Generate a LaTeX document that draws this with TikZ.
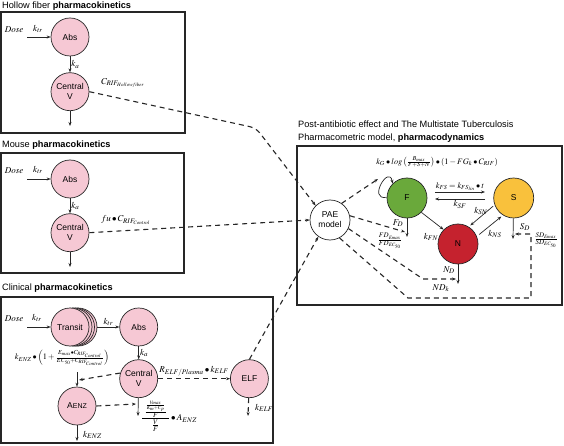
\documentclass[tikz,border=0pt]{standalone}
\usepackage{amsmath}
\usepackage{mathptmx}
\usepackage[no-math]{fontspec}
\setmainfont{Liberation Sans}
\usetikzlibrary{arrows.meta,positioning}
\definecolor{edge}{HTML}{262626}
\definecolor{pkpink}{HTML}{F6C8D4}
\definecolor{fgreen}{HTML}{6AA93B}
\definecolor{syellow}{HTML}{F9C13C}
\definecolor{nred}{HTML}{C5222E}
\tikzset{
  panel/.style={draw=edge, line width=1.2pt},
  ttl/.style={anchor=west, inner sep=0pt, text=black, font=\fontsize{9.2}{12.5}\selectfont},
  comp/.style={circle, draw=edge, line width=0.7pt, fill=pkpink, minimum size=38pt, inner sep=0pt, align=center, font=\fontsize{8.5}{10}\selectfont},
  pdcomp/.style={comp, minimum size=40pt},
  lbl/.style={inner sep=1pt, font=\small},
  eqn/.style={lbl, font=\fontsize{8.3}{10}\selectfont},
  arr/.style={-{Stealth[length=4pt,width=3pt]}, line width=0.7pt, draw=edge},
  darr/.style={arr, line width=1.1pt, dash pattern=on 5pt off 4pt}
}
\begin{document}
\begin{tikzpicture}[x=1pt, y=-1pt, node distance=16pt and 30pt]
  \useasboundingbox (0,0) rectangle (564,446);

  \node[ttl] (hfTitle) at (2,6) {Hollow fiber \textbf{pharmacokinetics}};
  \draw[panel] (1,12) rectangle (185,133);
  \node[comp] (hfAbs) at (70,37) {Abs};
  \node[comp, below=16pt of hfAbs] (hfCen) {Central\\V};
  \node[lbl] (hfDose) at (14,30) {$Dose$};
  \node[lbl] (hfKtr) at (38,29) {$k_{tr}$};
  \coordinate (hfIn) at (27,37);
  \coordinate (hfOut) at (70,126);
  \draw[arr] (hfIn) -- (hfAbs);
  \draw[arr] (hfAbs) -- node[lbl, right] {$k_a$} (hfCen);
  \draw[arr] (hfCen) -- (hfOut);
  \node[lbl, anchor=west] (hfConc) at (100,83) {$C_{RIF_{Hollowfiber}}$};

  \node[ttl] (msTitle) at (2,145) {Mouse \textbf{pharmacokinetics}};
  \draw[panel] (1,153) rectangle (184,273);
  \node[comp] (msAbs) at (70,179) {Abs};
  \node[comp, below=15pt of msAbs] (msCen) {Central\\V};
  \node[lbl] (msDose) at (14,171) {$Dose$};
  \node[lbl] (msKtr) at (38,170) {$k_{tr}$};
  \coordinate (msIn) at (27,179);
  \coordinate (msOut) at (70,267);
  \draw[arr] (msIn) -- (msAbs);
  \draw[arr] (msAbs) -- node[lbl, right] {$k_a$} (msCen);
  \draw[arr] (msCen) -- (msOut);
  \node[lbl, anchor=west] (msConc) at (100,220) {$fu \bullet C_{RIF_{Control}}$};

  \node[ttl] (clTitle) at (2,288) {Clinical \textbf{pharmacokinetics}};
  \draw[panel] (1,297) rectangle (273,443);
  \node[comp] (transitC) at (78,327) {};
  \node[comp] (transitB) at (75.5,327) {};
  \node[comp] (transitA) at (73,327) {};
  \node[comp] (transit) at (70,327) {Transit};
  \node[comp, right=30pt of transit] (clAbs) {Abs};
  \node[comp, below=13pt of clAbs] (clCen) {Central\\V};
  \node[comp, right=72pt of clCen] (elf) {ELF};
  \node[comp] (aenz) at (77,406) {A{\scriptsize ENZ}};
  \node[lbl] (clDose) at (14,319) {$Dose$};
  \node[lbl] (clKtr) at (37,318) {$k_{tr}$};
  \coordinate (clIn) at (27,327);
  \draw[arr] (clIn) -- (transit);
  \draw[arr] (transitC.east) -- node[lbl, above] {$k_{tr}$} (clAbs);
  \draw[arr] (clAbs) -- node[lbl, right] {$k_a$} (clCen);
  \node[eqn] (enzRate) at (62,358)
    {$k_{ENZ} \bullet \left(1 + \frac{E_{max} \bullet C_{RIF_{Control}}}{EC_{50} + C_{RIF_{Control}}}\right)$};
  \coordinate (enzTop) at (77,372);
  \coordinate (enzHit) at (79,380);
  \draw[arr] (enzTop) -- (aenz);
  \draw[darr] (clCen.163) -- (enzHit);
  \coordinate (aenzOut) at (77,441);
  \draw[arr] (aenz) -- (aenzOut);
  \node[lbl, anchor=west] (kenz) at (82,435) {$k_{ENZ}$};
  \coordinate (cvOut) at (138,416);
  \coordinate (cvHit) at (136,404);
  \draw[arr] (clCen) -- (cvOut);
  \draw[darr] (aenz.east) -- (cvHit);
  \node[eqn, anchor=west, font=\fontsize{9}{10}\selectfont] (mm) at (140,416)
    {$\dfrac{\;\frac{\frac{V_{max}}{K_m+C_p}}{F}\;}{\frac{V}{F}} \bullet A_{ENZ}$};
  \draw[darr] (clCen) -- node[lbl, above, yshift=1pt] {$R_{ELF/Plasma} \bullet k_{ELF}$} (elf);
  \coordinate (elfOut) at (248,416);
  \draw[darr] (elf) -- (elfOut);
  \node[lbl, anchor=west] (kelf) at (254,408) {$k_{ELF}$};

  \node[ttl, align=left, anchor=north west] (pdTitle) at (298,121)
    {Post-antibiotic effect and The Multistate Tuberculosis\\Pharmacometric model, \textbf{pharmacodynamics}};
  \draw[panel] (297,146) rectangle (562,305);
  \node[pdcomp, fill=white] (pae) at (330,220) {PAE\\model};
  \node[pdcomp, fill=fgreen] (F) at (407,198) {F};
  \node[pdcomp, fill=syellow, right=66pt of F] (S) {S};
  \node[pdcomp, fill=nred] (N) at (458,244) {N};

  \node[eqn] (growth) at (437,162)
    {$k_G \bullet log\left(\frac{B_{max}}{F+S+N}\right) \bullet (1 - FG_k \bullet C_{RIF})$};
  \draw[arr] (F.178) to[out=190, in=100, looseness=3.4] (F.135);
  \coordinate (fsA) at (435,192);
  \coordinate (fsB) at (485,192);
  \coordinate (sfA) at (485,199);
  \coordinate (sfB) at (435,199);
  \draw[arr] (fsA) -- node[eqn, above] {$k_{FS} = k_{FS_{lin}} \bullet t$} (fsB);
  \draw[arr] (sfA) -- node[lbl, below] {$k_{SF}$} (sfB);
  \draw[arr] (F.-45) -- (N.135);
  \node[lbl] (kfn) at (431,237) {$k_{FN}$};
  \draw[arr, shorten <=2pt, shorten >=2pt] (S.200) -- (N.58);
  \draw[arr, shorten <=3pt, shorten >=2pt] (N.22) -- (S.238);
  \node[lbl] (ksn) at (481,211) {$k_{SN}$};
  \node[lbl] (kns) at (495,234) {$k_{NS}$};

  \coordinate (loopIn) at (378,179);
  \draw[darr] (pae.55) -- (loopIn);

  \coordinate (fdOut) at (407,237);
  \coordinate (fdHit) at (405,232);
  \draw[arr] (F) -- (fdOut);
  \node[lbl] (fd) at (398,223) {$F_D$};
  \draw[darr] (pae.12) -- (fdHit);
  \node[lbl] (fdPar) at (390,241) {$\frac{FD_{E_{max}}}{FD_{EC_{50}}}$};

  \coordinate (ndOut) at (458,284);
  \coordinate (ndBend) at (423,279);
  \coordinate (ndHit) at (456,279);
  \draw[arr] (N) -- (ndOut);
  \node[lbl] (nd) at (449,270) {$N_D$};
  \draw[darr] (pae.-25) -- (ndBend) -- (ndHit);
  \node[lbl] (ndk) at (441,288) {$ND_k$};

  \coordinate (sdOut) at (513,239);
  \coordinate (sdA) at (408,298);
  \coordinate (sdB) at (531,298);
  \coordinate (sdC) at (531,234);
  \coordinate (sdHit) at (515,234);
  \draw[arr] (S) -- (sdOut);
  \node[lbl] (sd) at (525,227) {$S_D$};
  \draw[darr] (pae.-62) -- (sdA) -- (sdB) -- (sdC) -- (sdHit);
  \node[lbl] (sdPar) at (546,240) {$\frac{SD_{E_{max}}}{SD_{EC_{50}}}$};

  \draw[darr, rounded corners=6pt] (hfCen.east) -- (256,128) -- (pae.135);
  \draw[darr] (msCen.east) -- (pae.west);
  \draw[darr] (elf.north) -- (pae.235);
\end{tikzpicture}
\end{document}
